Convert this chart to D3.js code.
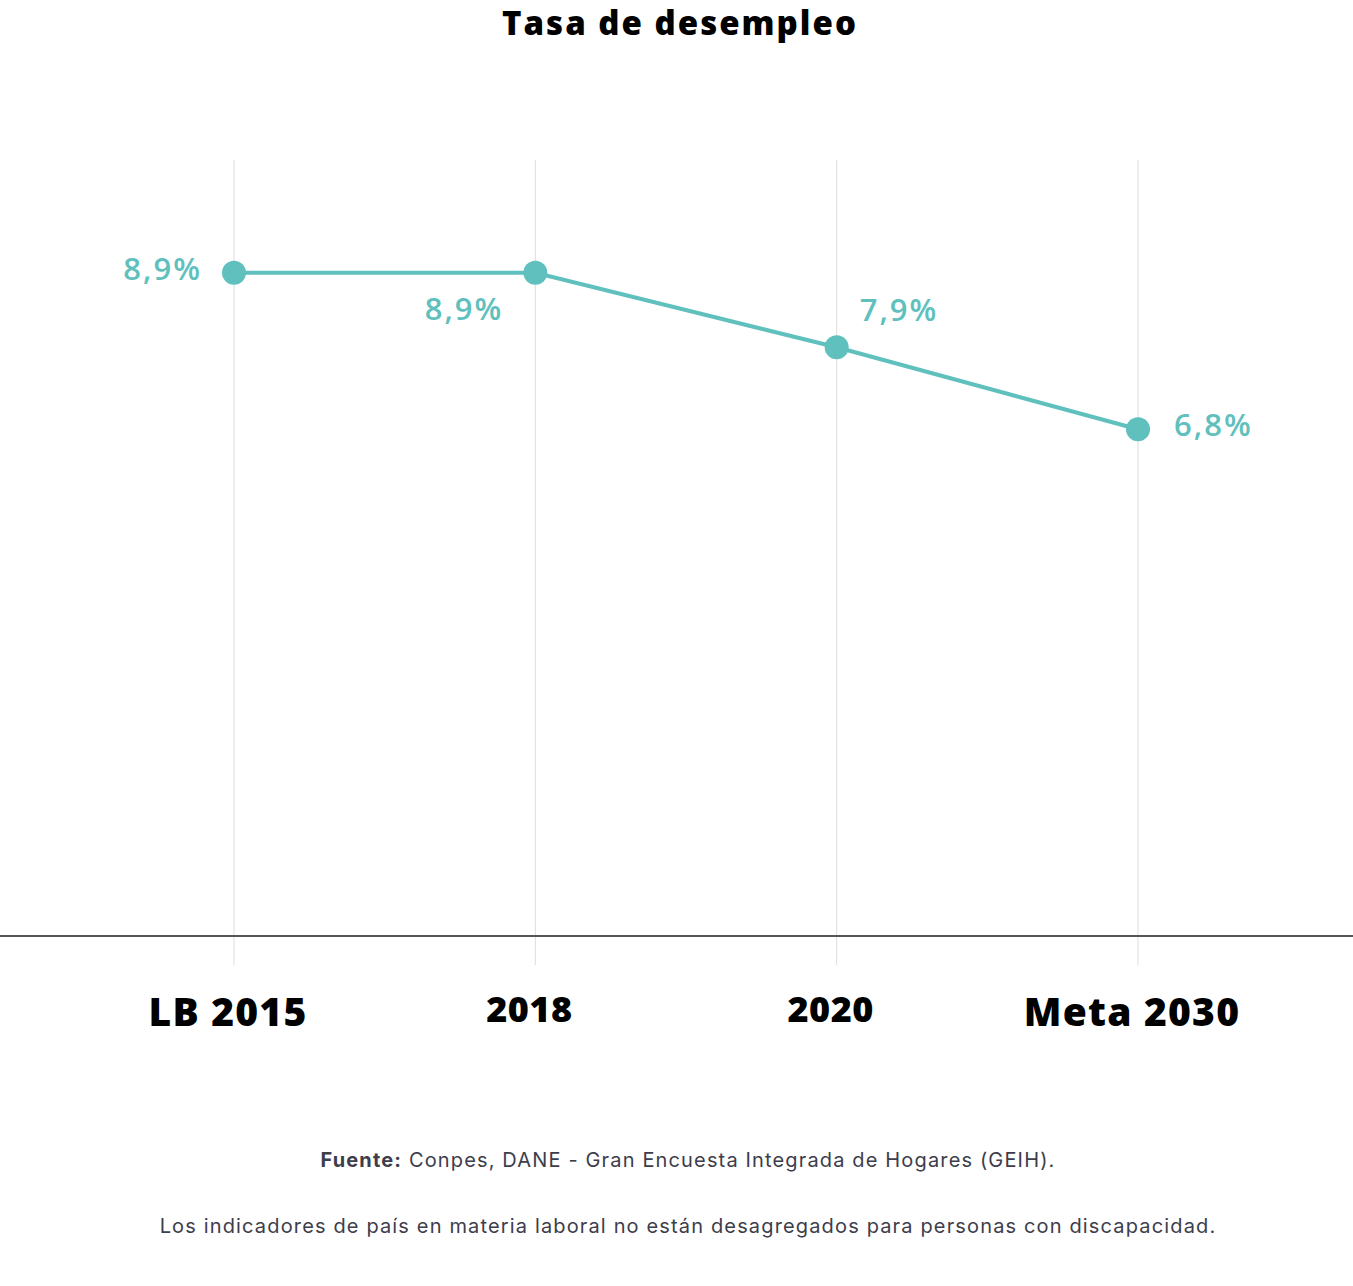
<!DOCTYPE html>
<html>
<head>
<meta charset="utf-8">
<script src="https://d3js.org/d3.v7.min.js"></script>
<style>
  body { margin: 0; background: #fff; }
</style>
</head>
<body>
<svg id="chart" width="1353" height="1286"></svg>

<script>
// data
const categories = ["LB 2015", "2018", "2020", "Meta 2030"]
const values = [8.9, 8.9, 7.9, 6.8]
const bigLabel = [true, false, false, true]   // LB and Meta labels are a bit bigger
// where each value label sits relative to its point
const labelPlace = [
  {dx: -32, dy: 7, anchor: "end"},
  {dx: -32, dy: 47, anchor: "end"},
  {dx: 23, dy: -26, anchor: "start"},
  {dx: 36, dy: 7, anchor: "start"}
]

const width = 1353
const teal = "#5fc0bd"
const plotTop = 161, plotBottom = 936

const svg = d3.select("#chart")

const x = d3.scalePoint()
  .domain(categories)
  .range([234, 1138])

const y = d3.scaleLinear()
  .domain([0, 10.4])
  .range([plotBottom, plotTop])

// title
svg.append("text")
  .attr("x", 680)
  .attr("y", 35)
  .attr("text-anchor", "middle")
  .style("font-family", "'Open Sans', sans-serif")
  .style("font-weight", 800)
  .style("font-size", "33px")
  .style("letter-spacing", "2px")
  .text("Tasa de desempleo")

// vertical grid lines
svg.selectAll(".grid")
  .data(categories)
  .join("line")
    .attr("x1", d => x(d))
    .attr("x2", d => x(d))
    .attr("y1", plotTop - 1)
    .attr("y2", plotBottom + 29)
    .attr("stroke", "#dddddd")
    .attr("stroke-width", 1)

// base line
svg.append("line")
  .attr("x1", 0)
  .attr("x2", width)
  .attr("y1", plotBottom)
  .attr("y2", plotBottom)
  .attr("stroke", "#555555")
  .attr("stroke-width", 2)

// category labels
svg.selectAll(".cat")
  .data(categories)
  .join("text")
    .attr("x", d => x(d) - 6)
    .attr("y", (d, i) => bigLabel[i] ? 1026 : 1022)
    .attr("text-anchor", "middle")
    .style("font-family", "'Open Sans', sans-serif")
    .style("font-weight", 800)
    .style("font-size", (d, i) => bigLabel[i] ? "39px" : "36px")
    .style("letter-spacing", (d, i) => bigLabel[i] ? "1.2px" : "0.5px")
    .text(d => d)

// the line
const pts = categories.map((c, i) => ({cat: c, v: values[i], i: i}))

svg.append("path")
  .datum(pts)
  .attr("fill", "none")
  .attr("stroke", teal)
  .attr("stroke-width", 4)
  .attr("d", d3.line()
    .x(d => x(d.cat))
    .y(d => y(d.v)))

svg.selectAll(".dot")
  .data(pts)
  .join("circle")
    .attr("cx", d => x(d.cat))
    .attr("cy", d => y(d.v))
    .attr("r", 12)
    .attr("fill", teal)

// value labels
const fmt = v => d3.format(".1f")(v).replace(".", ",") + "%"

svg.selectAll(".val")
  .data(pts)
  .join("text")
    .attr("x", d => x(d.cat) + labelPlace[d.i].dx)
    .attr("y", d => y(d.v) + labelPlace[d.i].dy)
    .attr("text-anchor", d => labelPlace[d.i].anchor)
    .attr("fill", teal)
    .style("font-family", "'Open Sans', sans-serif")
    .style("font-weight", 600)
    .style("font-size", "31px")
    .style("letter-spacing", "2px")
    .text(d => fmt(d.v))

// footer
const foot = svg.append("text")
  .attr("x", 688)
  .attr("y", 1167)
  .attr("text-anchor", "middle")
  .attr("fill", "#3d3d4b")
  .style("font-family", "Inter, sans-serif")
  .style("font-size", "20px")
  .style("letter-spacing", "1.15px")
foot.append("tspan").style("font-weight", 700).text("Fuente:")
foot.append("tspan").text(" Conpes, DANE - Gran Encuesta Integrada de Hogares (GEIH).")

svg.append("text")
  .attr("x", 688)
  .attr("y", 1233)
  .attr("text-anchor", "middle")
  .attr("fill", "#3d3d4b")
  .style("font-family", "Inter, sans-serif")
  .style("font-size", "20px")
  .style("letter-spacing", "1.15px")
  .text("Los indicadores de país en materia laboral no están desagregados para personas con discapacidad.")
</script>
</body>
</html>
